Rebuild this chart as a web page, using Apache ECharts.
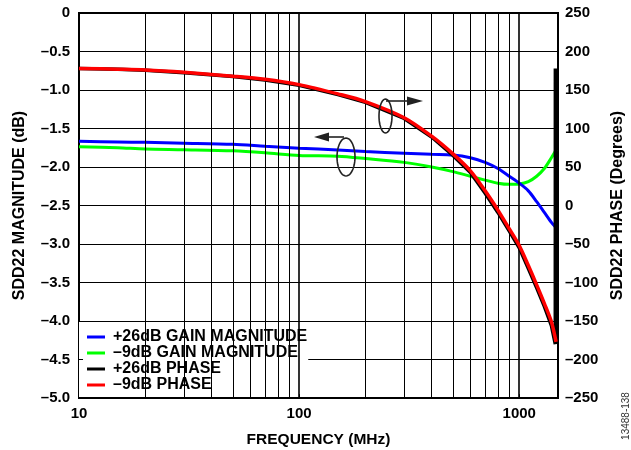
<!DOCTYPE html>
<html><head><meta charset="utf-8">
<script src="https://cdn.jsdelivr.net/npm/echarts@6/dist/echarts.min.js"></script>
<style>html,body{margin:0;padding:0;background:#fff}#c{width:631px;height:450px}</style>
</head><body><div id="c"></div>
<script>
// Frequencies (MHz)
const freqs = [10, 15, 20, 30, 50, 70, 100, 150, 200, 300, 400, 500, 600, 700, 800, 900, 1000, 1100, 1200, 1300, 1400, 1470];
// SDD22 magnitude (dB)
const mag26 = [-1.667, -1.675, -1.68, -1.69, -1.705, -1.73, -1.755, -1.78, -1.80, -1.82, -1.835, -1.845, -1.88, -1.94, -2.02, -2.12, -2.21, -2.31, -2.45, -2.59, -2.72, -2.79];
const mag9 = [-1.736, -1.75, -1.766, -1.775, -1.79, -1.815, -1.85, -1.86, -1.89, -1.94, -2.00, -2.06, -2.12, -2.17, -2.21, -2.225, -2.22, -2.19, -2.12, -2.02, -1.88, -1.78];
// SDD22 phase (degrees)
const phase9 = [178, 177, 176, 173, 168, 164, 157, 145, 135, 114, 90, 67, 45, 19, -6, -30, -52, -78, -103, -127, -151, -177];
const phase26Freqs = [10, 15, 20, 30, 50, 70, 100, 150, 200, 300, 400, 500, 600, 700, 800, 900, 1000, 1100, 1200, 1300, 1400, 1458, 1459];
const phase26 = [178, 177, 175.5, 172.5, 167.5, 163, 156, 144, 134, 113, 89, 65, 43, 16, -9, -33, -55, -82, -107, -131, -156, -180, 178];
// Axis ticks / gridlines
const xLabels = [10, 100, 1000];
const minorGrid = [20, 30, 40, 50, 60, 70, 80, 90, 200, 300, 400, 500, 600, 700, 800, 900];
const majorGrid = [100, 1000];
const seriesNames = ['+26dB GAIN MAGNITUDE', '\u20139dB GAIN MAGNITUDE', '+26dB PHASE', '\u20139dB PHASE'];
const seriesColors = ['#0000ff', '#00ff00', '#000000', '#ff0000'];

const FONT = 'Liberation Sans, Arial, sans-serif';
const dash = v => String(v).replace('-', '\u2013');
const pair = (xs, ys) => xs.map((x, i) => [x, ys[i]]);

function ellipse(cx, cy, rx, ry) {
  const pts = [];
  for (let i = 0; i < 48; i++) { const a = i / 48 * Math.PI * 2; pts.push([cx + rx * Math.cos(a), cy + ry * Math.sin(a)]); }
  return pts;
}
const tickStyle = {color: '#000', width: 1, type: 'solid'};
// inward tick marks on the bottom axis (drawn above the legend box) and left axis tick at -4.5
const tickMarks = minorGrid.concat(majorGrid).map(f => [{coord: [f, -5], lineStyle: tickStyle}, {coord: [f, -4.95]}])
  .concat([[{coord: [10, -4.5], lineStyle: tickStyle}, {coord: [10.43, -4.5]}]]);

const chart = echarts.init(document.getElementById('c'), null, {renderer: 'canvas'});
chart.setOption({
  animation: false,
  backgroundColor: '#fff',
  textStyle: {fontFamily: FONT},
  grid: {left: 79, right: 73, top: 13, bottom: 52, outerBoundsMode: 'none', containLabel: false,
         show: true, borderColor: '#000', borderWidth: 2, backgroundColor: 'transparent'},
  legend: {
    data: seriesNames, orient: 'vertical', left: 79, top: 322,
    backgroundColor: '#fff', padding: [7, 1, 4, 8],
    itemWidth: 18, itemHeight: 3, itemGap: 0, icon: 'rect',
    textStyle: {fontFamily: FONT, fontWeight: 'bold', fontSize: 16, color: '#000', lineHeight: 16, padding: [0, 0, 0, 3]}
  },
  xAxis: {
    type: 'log', logBase: 10, min: 10, max: 1500,
    name: 'FREQUENCY (MHz)', nameLocation: 'middle', nameGap: 34,
    nameTextStyle: {fontFamily: FONT, fontWeight: 'bold', fontSize: 15.5, color: '#000'},
    axisLine: {lineStyle: {color: '#000', width: 2}},
    axisTick: {show: false}, splitLine: {show: false}, minorTick: {show: false},
    axisLabel: {fontFamily: FONT, fontWeight: 'bold', fontSize: 15, color: '#000', margin: 8,
      formatter: v => xLabels.some(t => Math.abs(t - v) < 1e-6) ? String(Math.round(v)) : ''},
  },
  yAxis: [{
    type: 'value', min: -5, max: 0, interval: 0.5, position: 'left',
    name: 'SDD22 MAGNITUDE (dB)', nameLocation: 'middle', nameGap: 51, nameRotate: 90,
    nameTextStyle: {fontFamily: FONT, fontWeight: 'bold', fontSize: 16, color: '#000'},
    axisLine: {show: true, lineStyle: {color: '#000', width: 2}},
    axisTick: {show: false},
    splitLine: {show: true, lineStyle: {color: '#000', width: 1}},
    axisLabel: {fontFamily: FONT, fontWeight: 'bold', fontSize: 15, color: '#000', margin: 9,
      formatter: v => v === 0 ? '0' : dash(v.toFixed(1))}
  }, {
    type: 'value', min: -250, max: 250, interval: 50, position: 'right',
    name: 'SDD22 PHASE (Degrees)', nameLocation: 'middle', nameGap: 51, nameRotate: 90,
    nameTextStyle: {fontFamily: FONT, fontWeight: 'bold', fontSize: 16, color: '#000'},
    axisLine: {show: true, lineStyle: {color: '#000', width: 2}},
    axisTick: {show: false}, splitLine: {show: false},
    axisLabel: {fontFamily: FONT, fontWeight: 'bold', fontSize: 15, color: '#000', margin: 7,
      formatter: v => dash(v)}
  }],
  series: [
    {name: 'grid', type: 'line', data: [], z: 1, silent: true,
     markLine: {silent: true, symbol: ['none', 'none'], label: {show: false}, animation: false,
       data: minorGrid.map(f => ({xAxis: f, lineStyle: {color: '#000', width: 1, type: 'solid'}}))
         .concat(majorGrid.map(f => ({xAxis: f, lineStyle: {color: '#000', width: 1.6, type: 'solid'}})))}},
    {name: 'ticks', type: 'line', data: [], z: 10, silent: true,
     markLine: {silent: true, symbol: ['none', 'none'], label: {show: false}, animation: false, data: tickMarks}},
    {name: seriesNames[0], type: 'line', data: pair(freqs, mag26), yAxisIndex: 0, showSymbol: false, smooth: 0.3, z: 3,
     lineStyle: {color: seriesColors[0], width: 3}, itemStyle: {color: seriesColors[0]}},
    {name: seriesNames[1], type: 'line', data: pair(freqs, mag9), yAxisIndex: 0, showSymbol: false, smooth: 0.3, z: 2,
     lineStyle: {color: seriesColors[1], width: 3}, itemStyle: {color: seriesColors[1]}},
    {name: seriesNames[2], type: 'line', data: pair(phase26Freqs, phase26), yAxisIndex: 1, showSymbol: false, smooth: false, z: 4,
     lineStyle: {color: seriesColors[2], width: 3.5}, itemStyle: {color: seriesColors[2]}},
    {name: seriesNames[3], type: 'line', data: pair(freqs, phase9), yAxisIndex: 1, showSymbol: false, smooth: 0.3, z: 5,
     lineStyle: {color: seriesColors[3], width: 3.5}, itemStyle: {color: seriesColors[3]}}
  ],
  graphic: [
    {type: 'polygon', shape: {points: ellipse(346, 157, 9, 19)}, style: {fill: 'none', stroke: '#222', lineWidth: 1.6}, z: 10},
    {type: 'line', shape: {x1: 326, y1: 137, x2: 344, y2: 137}, style: {stroke: '#222', lineWidth: 1.6}, z: 10},
    {type: 'polygon', shape: {points: [[314, 137], [329, 132.5], [329, 141.5]]}, style: {fill: '#222'}, z: 10},
    {type: 'polygon', shape: {points: ellipse(385.5, 116, 6.5, 17)}, style: {fill: 'none', stroke: '#222', lineWidth: 1.6}, z: 10},
    {type: 'line', shape: {x1: 386, y1: 101, x2: 408, y2: 101}, style: {stroke: '#222', lineWidth: 1.6}, z: 10},
    {type: 'polygon', shape: {points: [[423, 101], [407, 96.5], [407, 105.5]]}, style: {fill: '#222'}, z: 10},
    {type: 'text', x: 626, y: 416, rotation: Math.PI / 2, style: {text: '13488-138', font: '10px ' + FONT, fill: '#333', align: 'center', verticalAlign: 'middle'}, z: 10}
  ]
});
</script></body></html>
